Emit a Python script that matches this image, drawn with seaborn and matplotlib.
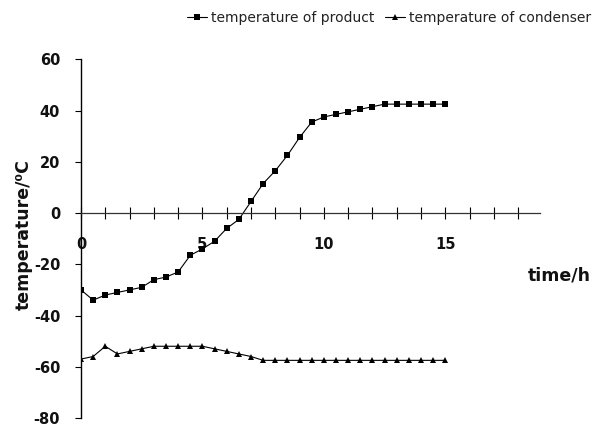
import numpy as np
import pandas as pd
import seaborn as sns
import matplotlib.pyplot as plt
from matplotlib.ticker import FixedLocator, NullFormatter
from matplotlib.lines import Line2D

time_h = [0, 0.5, 1, 1.5, 2, 2.5, 3, 3.5, 4, 4.5, 5, 5.5, 6, 6.5, 7, 7.5,
          8, 8.5, 9, 9.5, 10, 10.5, 11, 11.5, 12, 12.5, 13, 13.5, 14, 14.5, 15]
temp_product = [-30, -34, -32, -31, -30, -29, -26, -25, -23, -16.5, -14, -11, -6, -2.5,
                4.5, 11.5, 16.5, 22.5, 29.5, 35.5, 37.5, 38.5, 39.5, 40.5, 41.5,
                42.5, 42.5, 42.5, 42.5, 42.5, 42.5]
temp_condenser = [-57, -56, -52, -55, -54, -53, -52, -52, -52, -52, -52, -53, -54, -55,
                  -56, -57.5, -57.5, -57.5, -57.5, -57.5, -57.5, -57.5, -57.5, -57.5,
                  -57.5, -57.5, -57.5, -57.5, -57.5, -57.5, -57.5]
series_names = ["temperature of product", "temperature of condenser"]
x_tick_labels = ["0", "5", "10", "15"]
y_ticks = [-80, -60, -40, -20, 0, 20, 40, 60]

df = pd.DataFrame({
    "time": time_h * 2,
    "temp": temp_product + temp_condenser,
    "series": [series_names[0]] * len(time_h) + [series_names[1]] * len(time_h),
})

sns.set_theme(style="white")
plt.rcParams["font.family"] = ["DejaVu Sans"]
plt.rcParams["axes.unicode_minus"] = False

W, H = 602, 428
fig = plt.figure(figsize=(W / 100, H / 100), dpi=100)
x0, x1 = 81, 540
y0, y1 = 59.3, 418
ax = fig.add_axes([x0 / W, 1 - y1 / H, (x1 - x0) / W, (y1 - y0) / H])

sns.lineplot(data=df, x="time", y="temp", style="series", markers=["s", "^"],
             dashes=False, color="black", linewidth=0.8, markersize=4.8,
             markeredgewidth=0, ax=ax, legend=False, sort=False)

ax.set_xlim(0, 18.9)
ax.set_ylim(-80, 60)

for s in ["top", "right"]:
    ax.spines[s].set_visible(False)
ax.spines["bottom"].set_position(("data", 0))
ax.spines["left"].set_color("black")
ax.spines["bottom"].set_color("#333333")
ax.spines["left"].set_linewidth(1.0)
ax.spines["bottom"].set_linewidth(0.9)

ax.xaxis.set_major_locator(FixedLocator([0, 5, 10, 15]))
ax.set_xticklabels(x_tick_labels)
ax.xaxis.set_minor_locator(FixedLocator([1, 2, 3, 4, 6, 7, 8, 9, 11, 12, 13, 14, 16, 17, 18]))
ax.xaxis.set_minor_formatter(NullFormatter())
ax.tick_params(axis="x", which="both", direction="inout", length=8, width=0.8,
               color="black", bottom=True, pad=13, labelsize=10.5)
ax.set_yticks(y_ticks)
ax.tick_params(axis="y", which="major", direction="out", length=4, width=0.8,
               color="black", left=True, pad=11, labelsize=10.5)
for lbl in ax.get_xticklabels() + ax.get_yticklabels():
    lbl.set_fontweight("bold")
    lbl.set_color("#111111")

ax.set_xlabel("time/h", fontsize=12.5, fontweight="bold", color="#111111")
ax.xaxis.set_label_coords((559 - x0) / (x1 - x0), (y1 - 275) / (y1 - y0))
ax.xaxis.label.set_va("center")
ax.set_ylabel("temperature/\u2070C", fontsize=12.5, fontweight="bold", color="#111111")
ax.yaxis.set_label_coords((24 - x0) / (x1 - x0), (y1 - 235) / (y1 - y0))
ax.yaxis.label.set_va("center")

handles = [Line2D([], [], color="black", lw=0.8, marker="s", markersize=3.8, markeredgewidth=0),
           Line2D([], [], color="black", lw=0.8, marker="^", markersize=3.8, markeredgewidth=0)]
fig.legend(handles, series_names, loc="center right", bbox_to_anchor=(0.982, 1 - 18 / H),
           ncol=2, frameon=False, fontsize=10, handlelength=1.4, handletextpad=0.3,
           columnspacing=0.8, borderpad=0, borderaxespad=0, labelcolor="#222222")

fig.savefig("out.png", dpi=100)
